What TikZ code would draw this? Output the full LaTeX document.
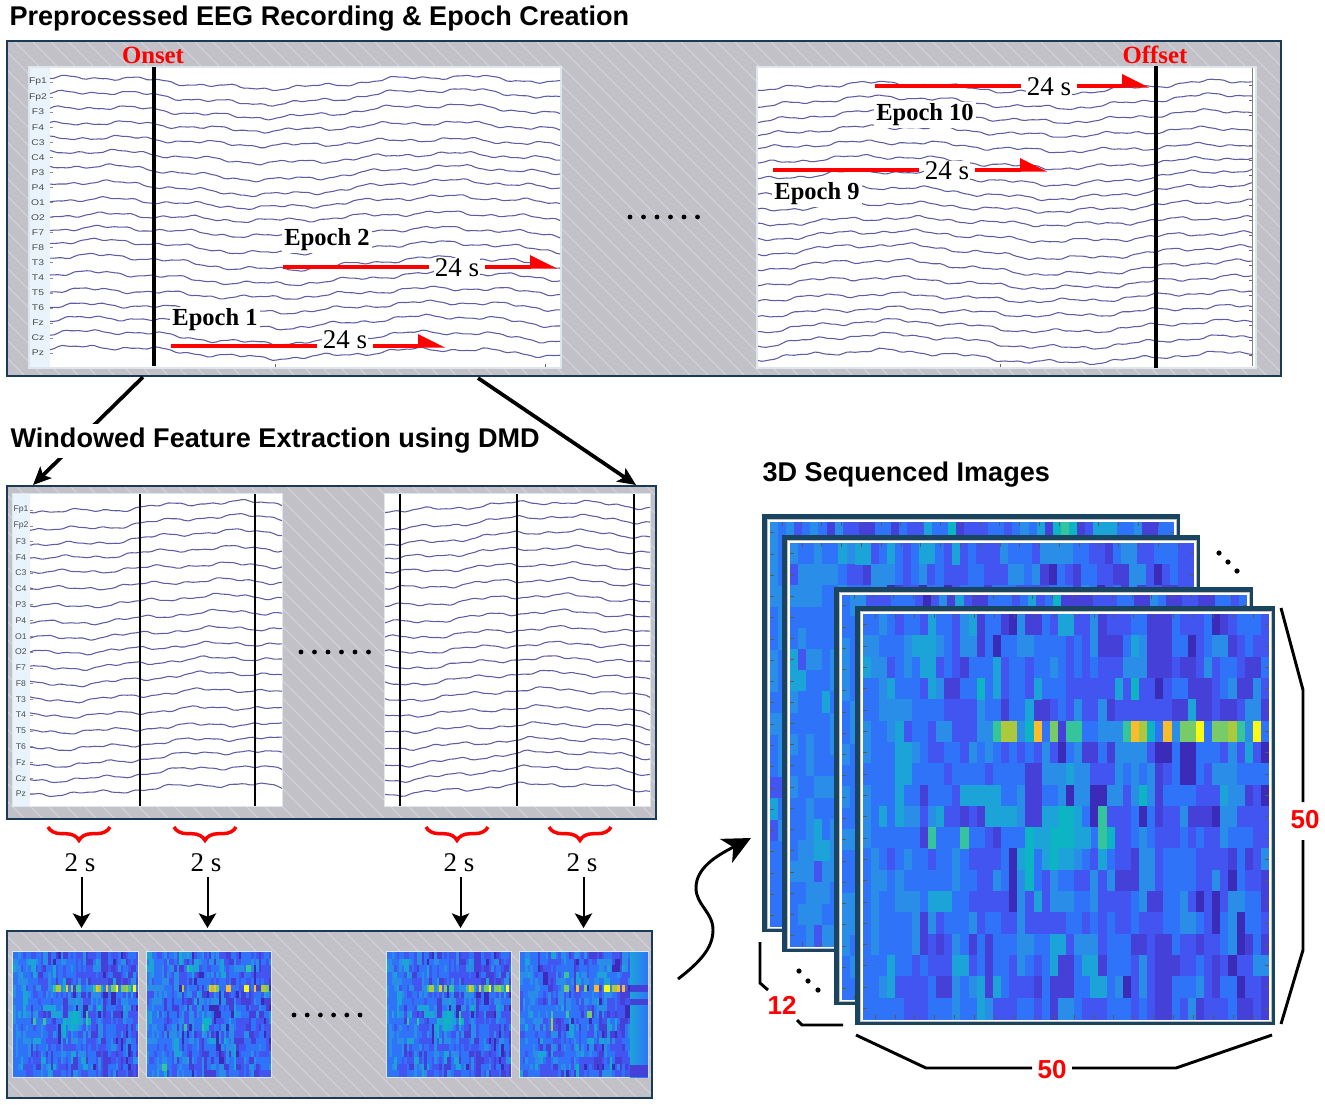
\documentclass[tikz,border=0pt]{standalone}
\usepackage{fontspec}
\setmainfont{Liberation Serif}
\setsansfont{Liberation Sans}
\usetikzlibrary{arrows.meta,decorations.pathreplacing}
\definecolor{hm0}{HTML}{3A2CB8}\definecolor{hm1}{HTML}{4440D8}\definecolor{hm2}{HTML}{4255F0}
\definecolor{hm3}{HTML}{2F74F8}\definecolor{hm4}{HTML}{2A8EE8}\definecolor{hm5}{HTML}{1CA4D8}
\definecolor{hm6}{HTML}{0CB4C4}\definecolor{hm7}{HTML}{35C49C}\definecolor{hm8}{HTML}{78CC68}
\definecolor{hm9}{HTML}{ACC83C}\definecolor{hm10}{HTML}{FABC2C}\definecolor{hm11}{HTML}{F9F914}
\definecolor{panelgray}{HTML}{C2C1C8}\definecolor{panelhatch}{HTML}{D6D6DB}\definecolor{panelframe}{HTML}{1A3B58}
\definecolor{stackframe}{HTML}{1A4560}\definecolor{stripblue}{HTML}{E8F3FB}\definecolor{tracecol}{HTML}{5F5CA4}
\definecolor{imgedge}{HTML}{DDE6EA}
\tikzset{
  paneledge/.style={draw=panelframe,line width=1.6pt},
  hatchline/.style={draw=panelhatch,line width=0.6pt},
  trace/.style={draw=tracecol,line width=0.8pt,line join=round},
  marker/.style={draw=black,line width=2.7pt},
  thinmarker/.style={draw=black,line width=2pt},
  chlabel/.style={font=\sffamily\fontsize{6.2}{6.5}\selectfont,text=black!70,inner sep=0pt},
  titletext/.style={font=\sffamily\bfseries\fontsize{20.3}{22}\selectfont,inner sep=1pt},
  eventtext/.style={font=\bfseries\fontsize{18.6}{20}\selectfont,text=red,inner sep=0pt},
  epochtext/.style={font=\bfseries\fontsize{18.4}{20}\selectfont,fill=white,inner sep=1.5pt},
  timetext/.style={font=\fontsize{20.25}{22}\selectfont,fill=white,inner sep=1pt},
  twotext/.style={font=\fontsize{20.25}{22}\selectfont,inner sep=0pt},
  dimtext/.style={font=\sffamily\bfseries\fontsize{19.5}{21}\selectfont,text=red,inner sep=1pt},
  redline/.style={draw=red,line width=3pt},
  bigconn/.style={draw=black,line width=2.8pt,-{Stealth[length=13.5pt,width=12pt,inset=3pt]}},
  downarrow/.style={draw=black,line width=1.5pt,-{Stealth[length=11pt,width=13pt,inset=2.5pt]}},
  curvy/.style={draw=black,line width=2.2pt,-{Stealth[length=21pt,width=20pt,inset=6pt]}},
  dimline/.style={draw=black,line width=2.2pt,line join=miter},
  redbrace/.style={draw=red,line width=2.6pt,decorate,decoration={brace,mirror,amplitude=10pt}},
  dotmark/.style={fill=black},
}
% grey hatched panel
\newcommand\hatchpanel[4]{%
  \fill[panelgray] (#1,#2) rectangle (#3,#4);
  \begin{scope}
    \clip (#1,#2) rectangle (#3,#4);
    \pgfmathsetmacro\hph{#4-#2}
    \pgfmathsetmacro\hpstart{#1-\hph}
    \pgfmathsetmacro\hpnext{\hpstart+18}
    \foreach \hk in {\hpstart,\hpnext,...,#3}{
      \draw[hatchline] (\hk,#2) -- ++(\hph,\hph);
    }
  \end{scope}
  \draw[paneledge] (#1,#2) rectangle (#3,#4);
}
% x1 x2 y0 dy phase
\newcommand\eegtraces[5]{%
  \pgfmathsetmacro\egn{int((#2-#1)/4)}
  \begin{scope}
  \clip (#1,#3-12) rectangle (#2,#3+18*#4+14);
  \foreach \ii in {0,...,18}{
    \draw[trace] plot[domain=0:#2-#1,samples=\egn]
      ({#1+\x},{#3+\ii*#4+(5+1.2*sin(\ii*70))*sin(1.03*\x+#5)+1.2*sin(\ii*53+0.5*\x)
        +1.6*sin(4.3*\x+#5+17*\ii)+1.0*sin(11*\x+2*#5+43*\ii)+0.5*sin(23*\x+61*\ii)});
  }
  \end{scope}
}
% channel labels at strip centre: x y0 dy xscale
\newcommand\chlabels[4]{%
  \foreach \nm [count=\ni from 0] in {Fp1,Fp2,F3,F4,C3,C4,P3,P4,O1,O2,F7,F8,T3,T4,T5,T6,Fz,Cz,Pz}{
    \node[chlabel,xscale=#4] (lab#1-\ni) at (#1,{#2+\ni*#3}) {\nm};
  }
}
% heat map: x y w h seed list(row/col/val)
\newcommand\heatmap[6]{%
  \pgfmathsetseed{#5}%
  \pgfmathsetmacro\hmcw{0.75*#3/50}%
  \pgfmathsetmacro\hmch{0.75*#4/19}%
  \edef\hmlist{#6}%
  \begin{scope}[shift={(#1,#2)},x=\hmcw pt,y=-\hmch pt]
  \foreach \rr in {0,...,18}{
    \def\hvleft{3}%
    \foreach \cc in {0,...,49}{
      \pgfmathrandominteger{\rk}{1}{100}%
      \pgfmathrandominteger{\rv}{1}{100}%
      \ifnum\cc<7
        \ifnum\rv<10 \def\hv{2}\else\ifnum\rv<62 \def\hv{3}\else\ifnum\rv<96 \def\hv{4}\else\def\hv{5}\fi\fi\fi
      \else
        \ifnum\cc<36
          \ifnum\rv<4 \def\hv{0}\else\ifnum\rv<15 \def\hv{1}\else\ifnum\rv<40 \def\hv{2}\else\ifnum\rv<74 \def\hv{3}\else\ifnum\rv<95 \def\hv{4}\else\ifnum\rv<100 \def\hv{5}\else\def\hv{6}\fi\fi\fi\fi\fi\fi
        \else
          \ifnum\rv<8 \def\hv{0}\else\ifnum\rv<28 \def\hv{1}\else\ifnum\rv<58 \def\hv{2}\else\ifnum\rv<86 \def\hv{3}\else\ifnum\rv<99 \def\hv{4}\else\def\hv{5}\fi\fi\fi\fi\fi
        \fi
      \fi
      \ifnum\rk<22 \ifnum\rr>0 \edef\hv{\csname hmp\cc\endcsname}\fi
      \else\ifnum\rk<40 \ifnum\cc>0 \edef\hv{\hvleftval}\fi\fi\fi
      \expandafter\xdef\csname hmp\cc\endcsname{\hv}%
      \xdef\hvleftval{\hv}%
      \fill[fill=hm\hv] (\cc,\rr) rectangle +(1.03,1.03);
    }
  }
  \foreach \rr/\cc/\hv in \hmlist {
    \fill[fill=hm\hv] (\cc,\rr) rectangle +(1.02,1.02);
  }
  \end{scope}
}
% framed image in stack: x1 y1 x2 y2 seed list
\newcommand\stackimage[6]{%
  \fill[stackframe] (#1,#2) rectangle (#3,#4);
  \fill[white,draw=black!25,line width=0.3pt] ({#1+5},{#2+5}) rectangle ({#3-4},{#4-4});
  \pgfmathsetmacro\six{#1+8}\pgfmathsetmacro\siy{#2+8}
  \pgfmathsetmacro\siw{#3-#1-14}\pgfmathsetmacro\sih{#4-#2-14}
  \heatmap{\six}{\siy}{\siw}{\sih}{#5}{#6}
  \begin{scope}[shift={(\six,\siy)}]
    \foreach \tk in {1,...,20}{
      \draw[black!65,line width=0.4pt] ({\tk*\siw/20.4-8},0) -- ++(0,4);
      \draw[black!65,line width=0.4pt] ({\tk*\siw/20.4-8},\sih) -- ++(0,-4);
    }
    \foreach \tk in {0,...,18}{
      \draw[black!65,line width=0.4pt] (0,{(\tk+.5)*\sih/19}) -- ++(4,0);
      \draw[black!65,line width=0.4pt] (\siw,{(\tk+.5)*\sih/19}) -- ++(-4,0);
    }
  \end{scope}
}
% small heat map with pale edge: x1 y1 x2 y2 seed list
\newcommand\smallmap[6]{%
  \pgfmathsetmacro\siw{#3-#1}\pgfmathsetmacro\sih{#4-#2}
  \fill[imgedge] ({#1-1},{#2-1}) rectangle ({#3+1},{#4+1});
  \heatmap{#1}{#2}{\siw}{\sih}{#5}{#6}
}
% red timed arrow: name x1 y textoffset
\newcommand\epocharrow[4]{%
  \coordinate (#1-a) at (#2,#3);
  \coordinate (#1-b) at ({#2+146},#3);
  \coordinate (#1-c) at ({#2+202},#3);
  \coordinate (#1-d) at ({#2+248},#3);
  \coordinate (#1-tip) at ({#2+274},{#3+2});
  \node[timetext] (#1-t) at ({#2+174},{#3+#4}) {24 s};
  \draw[redline] (#1-a) -- (#1-b);
  \draw[redline] (#1-c) -- (#1-d);
  \fill[red] (#1-tip) -- ++(-27,-13.5) -- ++(0,13.5) -- cycle;
}
\newcommand\dotrow[4]{% x y dx n
  \foreach \di in {1,...,#4}{\fill[dotmark] ({#1+(\di-1)*#3},#2) circle[radius=2.4];}
}
\def\hotA{5/16/7,5/17/9,5/18/9,5/19/4,5/20/6,5/21/10,5/22/3,5/23/8,5/24/1,5/25/7,5/26/7,5/27/3,5/28/3,5/29/4,5/30/4,5/31/4,5/32/7,5/33/10,5/34/9,5/35/6,5/36/3,5/37/10,5/38/4,5/39/8,5/40/8,5/41/11,5/42/3,5/43/8,5/44/8,5/45/9,5/46/7,5/47/4,5/48/11,5/49/3,10/8/7,10/12/7,10/21/5,10/22/5,10/23/6,10/24/6,10/25/6,10/26/5,10/27/5,9/22/5,9/23/5,9/24/6,9/25/6,9/26/5,10/29/7,10/30/6,9/29/7,11/23/6,11/24/5,11/25/5,10/5/3,10/6/3}
\begin{document}
\begin{tikzpicture}[x=0.75pt,y=-0.75pt]
\useasboundingbox (0,0) rectangle (1325,1104);
\fill[white] (0,0) rectangle (1325,1104);

% ---------- top panel
\node[titletext,anchor=west] (toptitle) at (8,19) {Preprocessed EEG Recording \& Epoch Creation};
\hatchpanel{7}{41}{1281}{376}
\fill[imgedge] (28,66) rectangle (562,369);
\fill[stripblue] (30,68) rectangle (50,367);
\fill[white] (50,68) rectangle (560,367);
\fill[imgedge] (756,66) rectangle (1257,369);
\fill[white] (758,68) rectangle (1255,367);
\eegtraces{50}{560}{82}{15.06}{-137}
\eegtraces{758}{1252}{87}{15}{140}
\chlabels{38}{82}{15.06}{1.25}
\foreach \ii in {0,...,18}{\draw[black!45,line width=0.4pt] (50,{82+\ii*15.06}) -- ++(3,0);
  \draw[black!60,line width=0.4pt] (1252,{85+\ii*15}) -- ++(-3,0);}
\draw[black!50,line width=0.4pt] (1252,68) -- (1252,366);
\foreach \tx in {275,545}{\draw[black!60,line width=0.4pt] (\tx,364) -- ++(0,3);}
\draw[black!60,line width=0.4pt] (1000,364) -- ++(0,3);
\coordinate (onA) at (154,67);\coordinate (onB) at (154,366);
\draw[marker] (onA) -- (onB);
\coordinate (offA) at (1156,66);\coordinate (offB) at (1156,368);
\draw[marker] (offA) -- (offB);
\node[eventtext] (onset) at (153,55) {Onset};
\node[eventtext] (offset) at (1155,55) {Offset};
\node[epochtext] (ep1) at (215,320) {Epoch 1};
\node[epochtext] (ep2) at (327,240) {Epoch 2};
\node[epochtext] (ep10) at (925,115) {Epoch 10};
\node[epochtext] (ep9) at (817,194) {Epoch 9};
\epocharrow{ea}{171}{345.5}{-5.5}
\epocharrow{eb}{283}{266.5}{1.5}
\epocharrow{ec}{773}{169.5}{1.5}
\epocharrow{ed}{875}{85.5}{1.5}
\dotrow{630}{217}{13.5}{6}

% ---------- connectors down
\coordinate (cA) at (143,377);\coordinate (cB) at (33,485);
\coordinate (cC) at (478,378);\coordinate (cD) at (636,485);
\draw[bigconn] (cA) -- (cB);
\draw[bigconn] (cC) -- (cD);
\node[titletext,anchor=west,fill=white,inner xsep=1pt,inner ysep=3pt] (midtitle) at (9,441) {Windowed Feature Extraction using DMD};

% ---------- middle panel
\hatchpanel{7}{486}{656}{819}
\fill[imgedge] (12,493) rectangle (283,807);
\fill[stripblue] (13,494) rectangle (30,806);
\fill[white] (30,494) rectangle (282,806);
\fill[imgedge] (384,493) rectangle (651,807);
\fill[white] (385,494) rectangle (650,806);
\eegtraces{30}{282}{506}{15.78}{60}
\eegtraces{385}{650}{506}{15.78}{95}
\chlabels{21}{510}{15.78}{1.05}
\foreach \ii in {0,...,18}{\draw[black!45,line width=0.4pt] (30,{510+\ii*15.78}) -- ++(3,0);}
\foreach \vx [count=\vi] in {140,255,400,517,634}{
  \coordinate (v\vi a) at (\vx,494);\coordinate (v\vi b) at (\vx,806);
  \draw[thinmarker] (v\vi a) -- (v\vi b);
}
\dotrow{301}{652}{13.5}{6}

% ---------- braces, labels, down arrows
\foreach \bx/\tx/\nn in {48/80/1,174/206/2,426/459/3,549/582/4}{
  \coordinate (br\nn a) at (\bx,827);\coordinate (br\nn b) at ({\bx+62},827);
  \draw[redbrace] (br\nn a) -- (br\nn b);
  \node[twotext] (two\nn) at (\tx,863) {2 s};
  \coordinate (dn\nn a) at ({\tx+1.5},877);\coordinate (dn\nn b) at ({\tx+1.5},928);
  \draw[downarrow] (dn\nn a) -- (dn\nn b);
}

% ---------- bottom panel
\hatchpanel{7}{931}{652}{1098}
\smallmap{13}{952}{138}{1077}{11}{\hotA}
\smallmap{147}{952}{271}{1077}{22}{5/14/9,5/13/0,5/25/10,5/26/9,5/27/10,5/28/8,5/32/10,5/33/10,5/39/11,5/40/11,5/43/10,5/46/9,5/47/9,5/48/8,10/22/5,10/23/6,10/24/6,10/25/5,11/15/7,11/22/7,11/23/6,11/24/6,2/16/7,2/17/6,2/18/5,2/19/5,2/40/7,2/41/7,17/6/7,18/7/6,17/7/7}
\smallmap{387}{952}{511}{1077}{11}{\hotA}
\smallmap{520}{952}{648}{1077}{44}{5/11/1,5/17/8,5/18/8,5/22/10,5/25/8,5/29/10,5/30/10,5/33/11,5/34/11,5/36/9,5/37/9,5/38/10,5/40/10,5/43/11,3/17/7,3/18/7,9/12/7,10/12/9,11/12/9,9/18/7,9/26/8,9/27/8}
\shade[left color=hm5,right color=hm3] (630,952) rectangle (648,1077);
\fill[hm1] (630,985) rectangle (648,991.6);
\fill[hm1] (630,999) rectangle (648,1005);
\fill[hm1] (630,1065) rectangle (648,1077);
\dotrow{294}{1015}{13.2}{6}

% ---------- curvy arrow
\coordinate (cvA) at (678,979);\coordinate (cvB) at (751,838);
\draw[curvy] (cvA) .. controls (700,962) and (713,948) .. (713,930)
  .. controls (713,912) and (696,905) .. (696,888)
  .. controls (696,868) and (716,856) .. (cvB);

% ---------- stack
\node[titletext,anchor=west] (stacktitle) at (761,475) {3D Sequenced Images};
\stackimage{762}{514}{1180}{932}{101}{2/46/6,0/35/6,0/36/7,0/37/6,0/22/6}
\stackimage{782}{535}{1200}{952}{102}{0/8/5,0/9/5,0/20/5}
\stackimage{834}{587}{1253}{1005}{103}{0/14/5,0/38/4}
\stackimage{855}{606}{1275}{1025}{11}{\hotA,0/8/5,0/13/5,0/24/5,0/25/5,3/14/6,3/33/6,3/31/5,3/21/5}
\foreach \dx/\dy in {1219/553,1228/562,1237/571,799/971,808/981,818/990}{\fill[dotmark] (\dx,\dy) circle[radius=2.6];}

% ---------- dimension marks
\coordinate (rA) at (1281,608);\coordinate (rB) at (1303,690);\coordinate (rC) at (1303,802);
\coordinate (rD) at (1303,840);\coordinate (rE) at (1303,950);\coordinate (rF) at (1281,1024);
\draw[dimline] (rA) -- (rB) -- (rC);
\draw[dimline] (rD) -- (rE) -- (rF);
\node[dimtext] (lblright) at (1305,820) {50};
\coordinate (bA) at (856,1035);\coordinate (bB) at (926,1068);\coordinate (bC) at (1032,1068);
\coordinate (bD) at (1072,1068);\coordinate (bE) at (1176,1068);\coordinate (bF) at (1272,1035);
\draw[dimline] (bA) -- (bB) -- (bC);
\draw[dimline] (bD) -- (bE) -- (bF);
\node[dimtext] (lblbottom) at (1052,1070) {50};
\coordinate (lA) at (760,942);\coordinate (lB) at (760,983);\coordinate (lC) at (768,990);
\coordinate (lD) at (797,1020);\coordinate (lE) at (802,1025);\coordinate (lF) at (843,1025);
\draw[dimline] (lA) -- (lB) -- (lC);
\draw[dimline] (lD) -- (lE) -- (lF);
\node[dimtext] (lblleft) at (782,1005) {12};
\end{tikzpicture}
\end{document}
